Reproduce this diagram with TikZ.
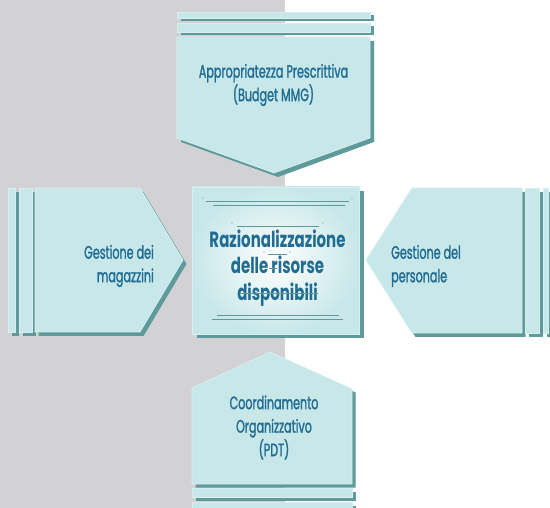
\documentclass[tikz,border=0pt]{standalone}
\usepackage{fontspec}
\setmainfont{Poppins}
\newfontfamily\labfont[FakeStretch=0.62,FakeBold=1.3]{Poppins}
\newfontfamily\ctrfont[FakeStretch=0.68]{Poppins}
\definecolor{greybg}{RGB}{210,210,212}
\definecolor{boxc}{RGB}{200,231,233}
\definecolor{hilite}{RGB}{214,239,241}
\definecolor{shadowc}{RGB}{94,154,154}
\definecolor{txtc}{RGB}{32,108,146}
\tikzset{
  shd/.style={fill=shadowc},
  flc/.style={fill=boxc, draw=hilite, line width=0.7pt},
  lab/.style={text=txtc, font=\labfont\fontsize{18}{23.5}\selectfont, inner sep=0pt},
  ctr/.style={text=txtc, font=\ctrfont\bfseries\fontsize{22}{26.5}\selectfont, inner sep=0pt, align=center},
  orn/.style={draw=shadowc, line width=0.8pt},
  dotc/.style={fill=shadowc}
}
\newcommand{\shapewithshadow}[3]{%
  \path[shd, shift={(#1)}] #3;
  \path[flc] #3;
}
\begin{document}
\begin{tikzpicture}[x=1pt,y=-1pt]
\useasboundingbox (0,0) rectangle (550,508);
\clip (0,0) rectangle (550,508);
\fill[greybg] (0,0) rectangle (285,508);
% top
\shapewithshadow{3.5,3.5}{}{(177,12) rectangle (370,18)}
\shapewithshadow{3.5,3.5}{}{(177,23) rectangle (370,32)}
\shapewithshadow{4,4}{}{(177,37) -- (370,37) -- (370,138) -- (274,173) -- (177,138) -- cycle}
% left
\shapewithshadow{3.5,4}{}{(8,188) rectangle (15,332)}
\shapewithshadow{3.5,4}{}{(19,188) rectangle (32,332)}
\shapewithshadow{3.5,4}{}{(35,188) -- (140,188) -- (183,260) -- (140,332) -- (35,332) -- cycle}
% right
\shapewithshadow{3.5,4}{}{(366,260) -- (412,188) -- (522,188) -- (522,333) -- (412,333) -- cycle}
\shapewithshadow{3.5,4}{}{(525,188) rectangle (539,333)}
\shapewithshadow{3.5,4}{}{(543,188) rectangle (548,333)}
% bottom
\shapewithshadow{3.5,3.5}{}{(192,388) -- (270,352) -- (352,389) -- (352,484) -- (192,484) -- cycle}
\shapewithshadow{3.5,3.5}{}{(192,488) rectangle (352,497)}
\shapewithshadow{3.5,3.5}{}{(192,502) rectangle (352,515)}
% centre
\path[shd] (196.5,191) rectangle (363.5,338);
\shade[inner color=white, outer color=boxc] (192,187) rectangle (359,334);
\draw[hilite, line width=0.7pt] (192,187) rectangle (359,334);
% texts
\node[lab, align=center] (top) at (273.5,85) {Appropriatezza Prescrittiva\\(Budget MMG)};
\node[lab, align=right, anchor=east] (left) at (154,266) {Gestione dei\\magazzini};
\node[lab, align=left, anchor=west] (right) at (391,266) {Gestione del\\personale};
\node[lab, align=center] (bottom) at (274,427.5) {Coordinamento\\Organizzativo\\(PDT)};
\node[ctr] (centre) at (277.5,268) {Razionalizzazione\\delle risorse\\disponibili};
% ornaments
\draw[orn] (206,201) -- (349,201);
\draw[orn] (213,205) -- (345,205);
\fill[dotc] (203,198) circle (0.6) (352,198) circle (0.6);
\draw[orn] (237,226) -- (319,226);
\fill[dotc] (232,223) circle (0.6) (323,223) circle (0.6);
\draw[orn] (268,254) -- (287,254);
\fill[dotc] (264,252) circle (0.6) (290,252) circle (0.6);
\draw[orn] (269,268) -- (277,268);
\draw[orn] (240,293) -- (318,293);
\draw[orn] (217,315) -- (339,315);
\draw[orn] (212,319) -- (343,319);
\end{tikzpicture}
\end{document}
